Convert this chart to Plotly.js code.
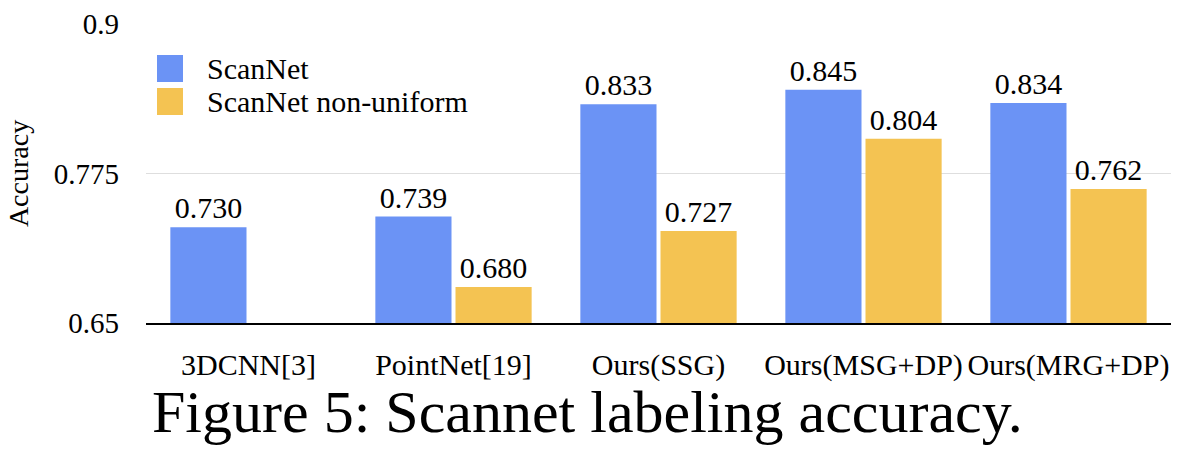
<!DOCTYPE html>
<html>
<head>
<meta charset="utf-8">
<script src="https://cdn.plot.ly/plotly-3.0.1.min.js"></script>
<style>html,body{margin:0;padding:0;background:#fff;}#chart{width:1184px;height:456px;}</style>
</head>
<body>
<div id="chart"></div>
<script>
const categories = ["3DCNN[3]", "PointNet[19]", "Ours(SSG)", "Ours(MSG+DP)", "Ours(MRG+DP)"];
const seriesNames = ["ScanNet", "ScanNet non-uniform"];
const scannet = [0.730, 0.739, 0.833, 0.845, 0.834];
const scannetNonUniform = [null, 0.680, 0.727, 0.804, 0.762];
const yTicks = [0.65, 0.775, 0.9];
const yTickLabels = ["0.65", "0.775", "0.9"];
const yTitle = "Accuracy";
const caption = "Figure 5: Scannet labeling accuracy.";
const colors = ["#6b93f5", "#f4c352"];

const W = 1184, H = 456;
const M = {l: 146, r: 13, t: 24, b: 133};
const pw = W - M.l - M.r, ph = H - M.t - M.b;
const px = x => (x - M.l) / pw;
const py = y => (H - M.b - y) / ph;
const FONT = "Liberation Serif";

const mk = (name, vals, color) => ({
  type: "bar", name: name, x: categories, y: vals,
  marker: {color: color, line: {width: 0}},
  text: vals.map(v => v == null ? "" : v.toFixed(3)),
  textposition: "outside", cliponaxis: false, constraintext: "none",
  textfont: {family: FONT, size: 30, color: "#000"},
  showlegend: false, hoverinfo: "x+y"
});

const data = [mk(seriesNames[0], scannet, colors[0]), mk(seriesNames[1], scannetNonUniform, colors[1])];

const shapes = [], annotations = [];
seriesNames.forEach((n, i) => {
  const top = 55 + i * 33;
  shapes.push({type: "rect", xref: "paper", yref: "paper", x0: px(157), x1: px(183), y0: py(top), y1: py(top + 27),
    fillcolor: colors[i], line: {width: 0}});
  annotations.push({xref: "paper", yref: "paper", x: px(205), y: py(top + 13.5), xanchor: "left", yanchor: "middle",
    text: n, showarrow: false, font: {family: FONT, size: 30, color: "#000"}});
});
annotations.push({xref: "paper", yref: "paper", x: px(150), y: py(412), xanchor: "left", yanchor: "middle",
  text: caption, showarrow: false, font: {family: FONT, size: 60, color: "#000"}});

const layout = {
  width: W, height: H, margin: M,
  paper_bgcolor: "#fff", plot_bgcolor: "#fff",
  barmode: "group", bargap: 0.218, bargroupgap: 0.05,
  font: {family: FONT, color: "#000"},
  xaxis: {type: "category", tickangle: 0, tickfont: {family: FONT, size: 30, color: "#000"},
    showline: true, linecolor: "#000", linewidth: 2, ticks: "", showgrid: false, ticklabelstandoff: 14, automargin: false},
  yaxis: {range: [0.65, 0.9], tickvals: yTicks, ticktext: yTickLabels, tickfont: {family: FONT, size: 29, color: "#000"},
    showgrid: true, gridcolor: "#dedede", gridwidth: 1, zeroline: false, showline: false, ticks: "",
    ticklabelstandoff: 26, automargin: false,
    title: {text: yTitle, font: {family: FONT, size: 28, color: "#000"}, standoff: 16}},
  shapes: shapes, annotations: annotations, showlegend: false
};

Plotly.newPlot("chart", data, layout, {displayModeBar: false, staticPlot: true});
</script>
</body>
</html>
